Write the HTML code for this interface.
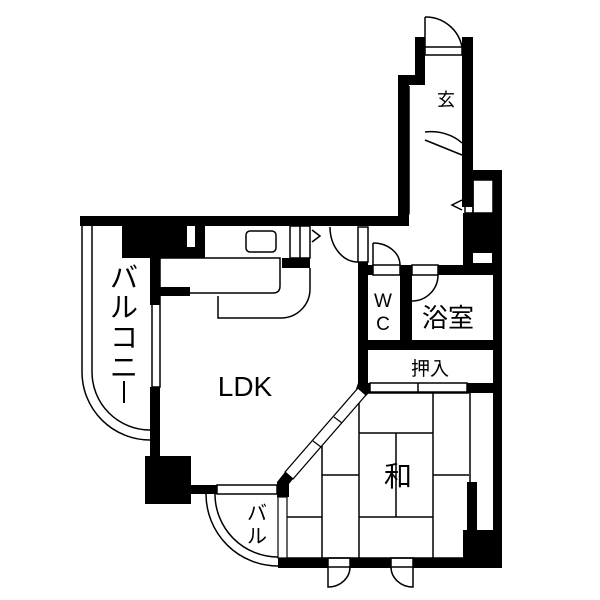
<!DOCTYPE html>
<html><head><meta charset="utf-8"><style>
html,body{margin:0;padding:0;background:#fff;}
svg{display:block;}
text{font-family:"Liberation Sans","Noto Sans CJK JP",sans-serif;fill:#000;}
</style></head><body>
<svg width="600" height="600" viewBox="0 0 600 600" xmlns="http://www.w3.org/2000/svg">
<g fill="none" stroke="#000" stroke-width="1.5">
<path d="M425 17 A37 37 0 0 1 462 47"/>
<line x1="425" y1="17" x2="425" y2="47"/>
<path d="M82 226 V372 A68 68 0 0 0 150 440"/>
<path d="M92 226 V372 A58 58 0 0 0 150 430"/>
<path d="M206 494 A72 72 0 0 0 278 566"/>
<path d="M215 494 A63 63 0 0 0 278 557"/>
<path d="M160 258 H280 V286 Q280 293 273 293 H190"/>
<rect x="246" y="231" width="30" height="21" rx="4"/>
<path d="M218 296 V318 H281 A29 29 0 0 0 310 289 V268"/>
<rect x="290" y="226" width="20" height="32"/>
<line x1="300" y1="226" x2="300" y2="258"/>
<path d="M312 230 L320 236 L312 242"/>
<path d="M330 227 A28 35 0 0 0 358 262"/>
<rect x="358" y="227" width="10" height="35"/>
<path d="M409 86 V212 Q409 217 404 217"/>
<path d="M425 132 A40 30 0 0 1 462 143"/>
<line x1="425" y1="140" x2="462" y2="155"/>
<rect x="465" y="182" width="8" height="31"/>
<path d="M462 200 L452 205 L462 210"/>
<rect x="473" y="180" width="20" height="33"/>
<path d="M373 243 A27 22 0 0 1 400 265"/>
<line x1="373" y1="243" x2="373" y2="265"/>
<rect x="373" y="265" width="27" height="10"/>
<rect x="412" y="265" width="26" height="10"/>
<path d="M438 275 A26 26 0 0 1 412 301"/>
<rect x="370" y="383" width="97" height="9"/>
<line x1="418" y1="383" x2="418" y2="392"/>
<!-- tatami -->
<line x1="366" y1="393" x2="469" y2="393"/>
<line x1="287" y1="558" x2="469" y2="558"/>
<line x1="322" y1="440" x2="322" y2="558"/>
<line x1="359" y1="400" x2="359" y2="558"/>
<line x1="433" y1="393" x2="433" y2="558"/>
<line x1="359" y1="433" x2="433" y2="433"/>
<line x1="396" y1="433" x2="396" y2="517"/>
<line x1="359" y1="517" x2="433" y2="517"/>
<line x1="322" y1="475" x2="359" y2="475"/>
<line x1="287" y1="517" x2="322" y2="517"/>
<line x1="433" y1="475" x2="469" y2="475"/>
<line x1="470" y1="393" x2="470" y2="530"/>
<rect x="152" y="258" width="8" height="129"/>
<rect x="217" y="485" width="60" height="9"/>
<rect x="328" y="558" width="22" height="9"/>
<path d="M328 567 V587 A22 20 0 0 0 350 567"/>
<rect x="391" y="558" width="22" height="9"/>
<path d="M413 567 V587 A22 20 0 0 1 391 567"/>
<rect x="425" y="47" width="37" height="8"/>
</g>
<g fill="#000">
<rect x="80" y="216" width="328" height="10"/>
<rect x="398" y="75" width="11" height="151"/>
<rect x="398" y="75" width="27" height="10"/>
<rect x="415" y="37" width="10" height="48"/>
<rect x="462" y="37" width="11" height="170"/>
<rect x="473" y="170" width="29" height="10"/>
<rect x="493" y="170" width="9" height="398"/>
<rect x="463" y="213" width="39" height="40"/>
<rect x="463" y="253" width="10" height="22"/>
<rect x="492" y="253" width="10" height="22"/>
<rect x="463" y="263" width="39" height="12"/>
<rect x="122" y="226" width="65" height="32"/>
<rect x="195" y="226" width="10" height="32"/>
<rect x="187" y="247" width="8" height="11"/>
<rect x="150" y="226" width="10" height="79"/>
<rect x="160" y="287" width="30" height="9"/>
<rect x="282" y="258" width="28" height="10"/>
<rect x="150" y="387" width="10" height="70"/>
<rect x="145" y="456" width="46" height="48"/>
<rect x="191" y="485" width="26" height="9"/>
<rect x="358" y="262" width="10" height="124"/>
<rect x="368" y="265" width="5" height="10"/>
<rect x="400" y="265" width="12" height="85"/>
<rect x="438" y="265" width="25" height="10"/>
<rect x="368" y="340" width="125" height="10"/>
<rect x="467" y="383" width="26" height="10"/>
<polygon points="358,383 370,383 370,392 366,396 356,389"/>
<polygon points="277,482 285,472 293,479 289,484 289,497 277,497"/>
<rect x="467" y="482" width="10" height="48"/>
<rect x="463" y="530" width="39" height="38"/>
<rect x="278" y="558" width="50" height="10"/>
<rect x="350" y="558" width="41" height="10"/>
<rect x="413" y="558" width="55" height="10"/>
</g>
<!-- diagonal window -->
<polygon points="285,472 358,388 366,395 293,479" fill="#fff" stroke="#000" stroke-width="1.3"/>
<line x1="313" y1="441" x2="321" y2="447" stroke="#000" stroke-width="1.2"/>
<line x1="334" y1="417" x2="342" y2="423" stroke="#000" stroke-width="1.2"/>
<rect x="278" y="497" width="9" height="61" fill="#fff" stroke="#000" stroke-width="1.2"/>
<text x="245" y="396" font-size="28" text-anchor="middle">LDK</text>
<text x="398" y="486" font-size="28" text-anchor="middle">和</text>
<text x="448" y="327" font-size="26" text-anchor="middle">浴室</text>
<text x="383" y="307" font-size="19" text-anchor="middle">W</text>
<text x="383" y="330" font-size="19" text-anchor="middle">C</text>
<text x="430" y="375" font-size="19" text-anchor="middle">押入</text>
<text x="446" y="106" font-size="18" text-anchor="middle">玄</text>
<g font-size="28" text-anchor="middle">
<text x="124" y="287">バ</text>
<text x="124" y="317">ル</text>
<text x="124" y="347">コ</text>
<text x="124" y="377">ニ</text>
</g>
<line x1="124" y1="381" x2="124" y2="403" stroke="#000" stroke-width="2"/>
<g font-size="20" text-anchor="middle">
<text x="257" y="520">バ</text>
<text x="257" y="543">ル</text>
</g>
</svg>
</body></html>
